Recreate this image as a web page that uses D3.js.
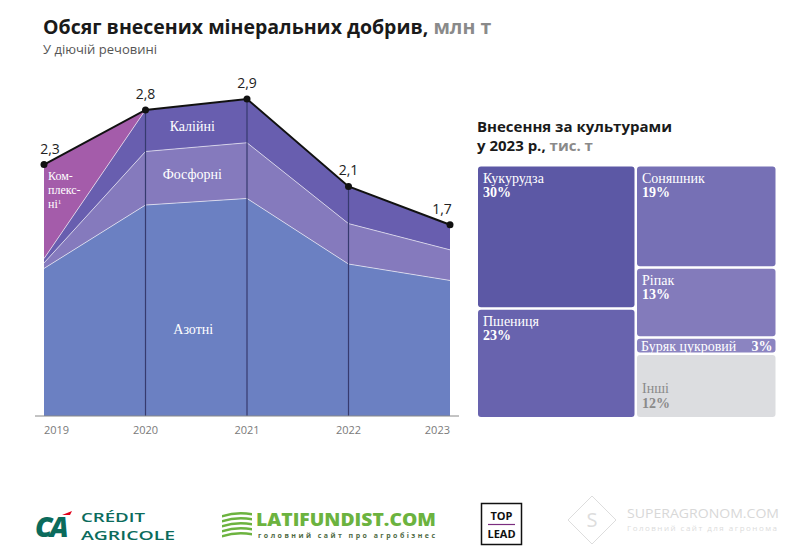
<!DOCTYPE html>
<html><head><meta charset="utf-8">
<script src="https://cdn.jsdelivr.net/npm/d3@7"></script>
<style>
body{margin:0;background:#fff;}
svg{display:block;}
</style></head>
<body>
<svg id="c" width="800" height="559"></svg>
<script>
// ---- data ----
const years = [2019, 2020, 2021, 2022, 2023];
const azotni = [1.35, 1.93, 1.99, 1.39, 1.24];
const fosforni = [0.05, 0.49, 0.51, 0.37, 0.28];
const kaliini = [0.04, 0.38, 0.40, 0.34, 0.23];
const kompleksni = [0.86, 0, 0, 0, 0];
const totalLabels = ["2,3", "2,8", "2,9", "2,1", "1,7"];
const seriesNames = ["Азотні", "Фосфорні", "Калійні", "Комплексні"];

const crops = ["Кукурудза", "Пшениця", "Соняшник", "Ріпак", "Буряк цукровий", "Інші"];
const cropShares = [30, 23, 19, 13, 3, 12];
const cropColumn = [0, 0, 1, 1, 1, 1];

// ---- setup ----
const svg = d3.select("#c");
const sans = "'Open Sans', sans-serif";
const serif = "'Liberation Serif', serif";

// titles
const t = svg.append("text").attr("x", 43).attr("y", 34)
  .attr("font-family", sans).attr("font-weight", 700).attr("font-size", 19.5).attr("fill", "#1a1a1a");
t.append("tspan").text("Обсяг внесених мінеральних добрив,");
t.append("tspan").attr("fill", "#8a8a8a").text(" млн т");
svg.append("text").attr("x", 43).attr("y", 54).attr("font-family", sans)
  .attr("font-size", 13).attr("fill", "#555").text("У діючій речовині");

// ---- area chart ----
const x = d3.scalePoint().domain(years).range([44, 450]);
const y = d3.scaleLinear().domain([0, 2.9]).range([416, 99]);

const table = years.map((yr, i) => ({
  year: yr, "Азотні": azotni[i], "Фосфорні": fosforni[i], "Калійні": kaliini[i], "Комплексні": kompleksni[i]
}));
const stack = d3.stack().keys(seriesNames)(table);
const colors = {"Азотні": "#6b80c2", "Фосфорні": "#857abd", "Калійні": "#685eaf", "Комплексні": "#a45caa"};

const area = d3.area().x(d => x(d.data.year)).y0(d => y(d[0])).y1(d => y(d[1]));
svg.append("g").selectAll("path").data(stack).join("path")
  .attr("d", area).attr("fill", d => colors[d.key]);

// layer boundaries
const topLine = d3.line().x(d => x(d.data.year)).y(d => y(d[1]));
svg.append("g").selectAll("path").data(stack.slice(0, 3)).join("path")
  .attr("d", topLine).attr("fill", "none").attr("stroke", "#fff")
  .attr("stroke-opacity", 0.6).attr("stroke-width", 1);

// vertical dark lines
const totals = table.map(d => seriesNames.reduce((s, k) => s + d[k], 0));
svg.append("g").selectAll("line").data(years.slice(1, 4)).join("line")
  .attr("x1", d => x(d)).attr("x2", d => x(d))
  .attr("y1", y(0)).attr("y2", d => y(totals[years.indexOf(d)]))
  .attr("stroke", "#363a6e").attr("stroke-width", 1.2);

// axis
const axis = svg.append("g").attr("transform", `translate(0,${y(0)})`);
axis.append("line").attr("x1", 35).attr("x2", 459).attr("stroke", "#888").attr("stroke-width", 1);
axis.selectAll("text").data(years).join("text")
  .attr("x", d => x(d)).attr("y", 18)
  .attr("text-anchor", (d, i) => i === 0 ? "start" : (i === years.length - 1 ? "end" : "middle"))
  .attr("font-family", sans).attr("font-size", 11).attr("fill", "#7a7a7a").text(d => d);

// total line + dots + labels
svg.append("path").datum(totals)
  .attr("d", d3.line().x((d, i) => x(years[i])).y(d => y(d)))
  .attr("fill", "none").attr("stroke", "#111").attr("stroke-width", 2);
svg.append("g").selectAll("circle").data(totals).join("circle")
  .attr("cx", (d, i) => x(years[i])).attr("cy", d => y(d)).attr("r", 3.5).attr("fill", "#111");
svg.append("g").selectAll("text").data(totals).join("text")
  .attr("x", (d, i) => x(years[i]) + (i === 0 ? 6 : (i === 4 ? -8 : 0)))
  .attr("y", d => y(d) - 11)
  .attr("text-anchor", "middle").attr("font-family", sans).attr("font-size", 14).attr("fill", "#222")
  .text((d, i) => totalLabels[i]);

// series labels
const midX = (x(2020) + x(2021)) / 2;
const layerMid = (k) => {
  const s = stack.find(z => z.key === k);
  const a = s[1], b = s[2];
  return ((a[0] + a[1]) / 2 + (b[0] + b[1]) / 2) / 2;
};
const lab = svg.append("g").attr("font-family", serif).attr("font-size", 14).attr("fill", "#fff").attr("text-anchor", "middle");
lab.append("text").attr("x", midX - 4).attr("y", y(layerMid("Калійні")) + 5).text("Калійні");
lab.append("text").attr("x", midX - 4).attr("y", y(layerMid("Фосфорні")) + 5).text("Фосфорні");
lab.append("text").attr("x", midX - 3).attr("y", y(0.75)).text("Азотні");
const kl = svg.append("g").attr("font-family", serif).attr("font-size", 12).attr("fill", "#fff");
kl.append("text").attr("x", x(2019) + 4).attr("y", y(2.3) + 15).text("Ком-");
kl.append("text").attr("x", x(2019) + 4).attr("y", y(2.3) + 29).text("плекс-");
const k3 = kl.append("text").attr("x", x(2019) + 4).attr("y", y(2.3) + 43);
k3.append("tspan").text("ні");
k3.append("tspan").attr("font-size", 7).attr("dy", -4).text("1");

// ---- treemap ----
const tt = svg.append("g").attr("font-family", sans).attr("font-weight", 700).attr("font-size", 15).attr("fill", "#1a1a1a");
tt.append("text").attr("x", 477).attr("y", 132).text("Внесення за культурами");
const t2 = tt.append("text").attr("x", 477).attr("y", 151);
t2.append("tspan").text("у 2023 р.,");
t2.append("tspan").attr("fill", "#8a8a8a").text(" тис. т");

const cropColors = ["#5c58a5", "#6863ae", "#7670b5", "#837bbb", "#8b84c1", "#dcdde0"];
const hierData = {name: "root", children: [0, 1].map(c => ({
  name: "col" + c,
  children: crops.map((n, i) => ({name: n, value: cropShares[i], idx: i})).filter(d => cropColumn[d.idx] === c)
}))};
const root = d3.hierarchy(hierData).sum(d => d.value || 0);
d3.treemap().tile(d3.treemapSliceDice).size([297.5, 250.5]).paddingInner(2.5)(root);
const tm = svg.append("g").attr("transform", "translate(478,166.5)");
const leaves = tm.selectAll("g").data(root.leaves()).join("g")
  .attr("transform", d => `translate(${d.x0},${d.y0})`);
leaves.append("rect").attr("width", d => d.x1 - d.x0).attr("height", d => d.y1 - d.y0)
  .attr("rx", 3).attr("fill", d => cropColors[d.data.idx]);
leaves.each(function(d) {
  const g = d3.select(this);
  const w = d.x1 - d.x0, h = d.y1 - d.y0;
  const col = d.data.idx === 5 ? "#8a8a8a" : "#fff";
  const name = d.data.name, pct = d.data.value + "%";
  if (d.data.idx === 4) {
    g.append("text").attr("x", 4).attr("y", h / 2 + 5).attr("font-family", serif).attr("font-size", 14)
      .attr("fill", col).text(name);
    g.append("text").attr("x", w - 3).attr("y", h / 2 + 5).attr("text-anchor", "end").attr("font-family", serif)
      .attr("font-weight", 700).attr("font-size", 14).attr("fill", col).text(pct);
  } else if (d.data.idx === 5) {
    g.append("text").attr("x", 5).attr("y", h - 24).attr("font-family", serif).attr("font-size", 14)
      .attr("fill", col).text(name);
    g.append("text").attr("x", 5).attr("y", h - 9).attr("font-family", serif).attr("font-weight", 700)
      .attr("font-size", 14).attr("fill", col).text(pct);
  } else {
    g.append("text").attr("x", 5).attr("y", 16).attr("font-family", serif).attr("font-size", 14)
      .attr("fill", col).text(name);
    g.append("text").attr("x", 5).attr("y", 30).attr("font-family", serif).attr("font-weight", 700)
      .attr("font-size", 14).attr("fill", col).text(pct);
  }
});

// ---- logos (footer) ----
const f = svg.append("g");
// Credit Agricole
f.append("text").attr("x", 35).attr("y", 537).attr("font-family", sans).attr("font-weight", 800)
  .attr("font-style", "italic").attr("font-size", 28).attr("fill", "#0b6b5c").attr("letter-spacing", -3).text("CA");
f.append("path").attr("d", "M62,515 L72,511 L70,515 Z").attr("fill", "#e2001a");
f.append("text").attr("x", 81).attr("y", 522).attr("font-family", sans).attr("font-weight", 600)
  .attr("font-size", 12.5).attr("fill", "#0b6b5c").attr("textLength", 64).attr("lengthAdjust", "spacingAndGlyphs").text("CRÉDIT");
f.append("text").attr("x", 81).attr("y", 540).attr("font-family", sans).attr("font-weight", 600)
  .attr("font-size", 12.5).attr("fill", "#0b6b5c").attr("textLength", 94).attr("lengthAdjust", "spacingAndGlyphs").text("AGRICOLE");
// Latifundist
const lg = f.append("g").attr("transform", "translate(222,512)");
[0, 5, 10, 15, 20].forEach(o => lg.append("path")
  .attr("d", `M0,${o + 3} Q15,${o - 2} 30,${o + 1} L30,${o + 3.5} Q15,${o + 0.5} 0,${o + 5.5} Z`).attr("fill", "#6cb33f"));
f.append("text").attr("x", 256).attr("y", 526).attr("font-family", sans).attr("font-weight", 800)
  .attr("font-size", 18).attr("fill", "#6cb33f").attr("textLength", 180).attr("lengthAdjust", "spacingAndGlyphs").text("LATIFUNDIST.COM");
f.append("text").attr("x", 258).attr("y", 538).attr("font-family", sans).attr("font-weight", 700)
  .attr("font-size", 7).attr("fill", "#4f6b45").attr("textLength", 177).attr("lengthAdjust", "spacing").text("головний сайт про агробізнес");
// Top Lead
f.append("rect").attr("x", 481.5).attr("y", 503.5).attr("width", 40).attr("height", 41)
  .attr("fill", "#fff").attr("stroke", "#111").attr("stroke-width", 1.5);
f.append("text").attr("x", 501.5).attr("y", 520).attr("text-anchor", "middle").attr("font-family", sans)
  .attr("font-weight", 700).attr("font-size", 11).attr("fill", "#111").text("TOP");
f.append("line").attr("x1", 488).attr("x2", 515).attr("y1", 524.5).attr("y2", 524.5).attr("stroke", "#7b2d7f").attr("stroke-width", 1.2);
f.append("text").attr("x", 501.5).attr("y", 538).attr("text-anchor", "middle").attr("font-family", sans)
  .attr("font-weight", 700).attr("font-size", 11).attr("fill", "#111").text("LEAD");
// SuperAgronom (faint)
f.append("path").attr("d", "M592,496 L616,520 L592,544 L568,520 Z").attr("fill", "none").attr("stroke", "#ddd").attr("stroke-width", 1);
f.append("text").attr("x", 592).attr("y", 527).attr("text-anchor", "middle").attr("font-family", sans)
  .attr("font-size", 20).attr("fill", "#ddd").text("S");
f.append("text").attr("x", 627).attr("y", 518).attr("font-family", sans).attr("font-size", 12)
  .attr("fill", "#d8d8d8").attr("textLength", 152).attr("lengthAdjust", "spacingAndGlyphs").text("SUPERAGRONOM.COM");
f.append("text").attr("x", 627).attr("y", 531).attr("font-family", sans).attr("font-size", 8)
  .attr("fill", "#dcdcdc").attr("textLength", 150).attr("lengthAdjust", "spacing").text("Головний сайт для агронома");
</script>
</body></html>
